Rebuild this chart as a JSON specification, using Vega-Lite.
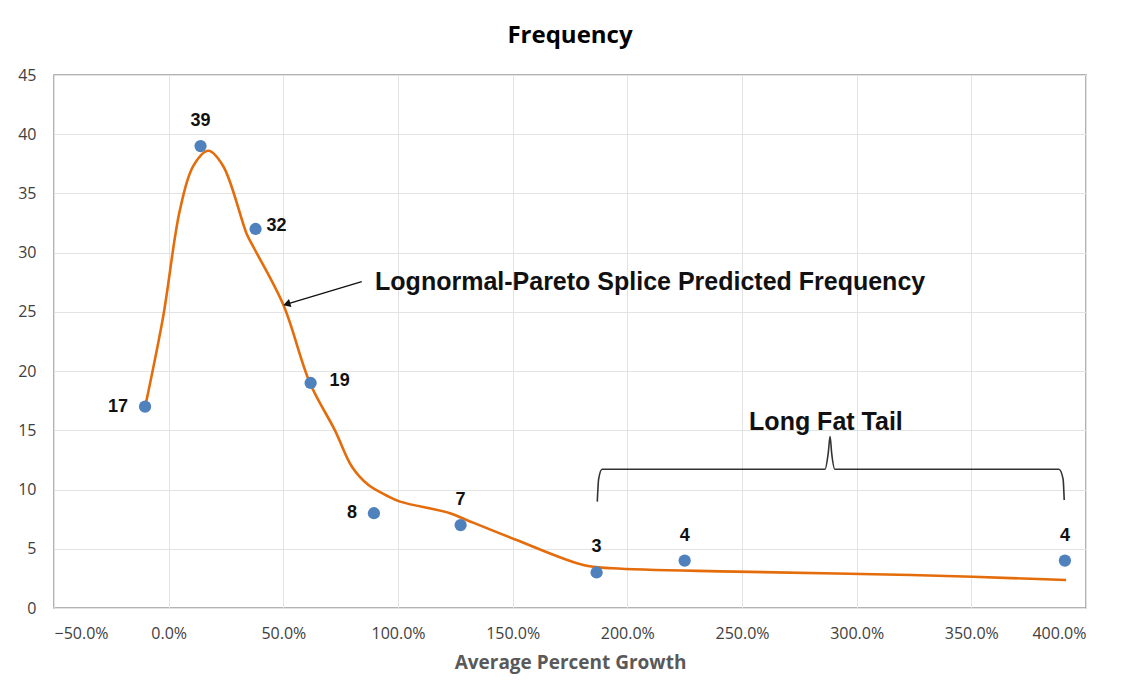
{
  "$schema": "https://vega.github.io/schema/vega-lite/v6.json",
  "width": 1032,
  "height": 533,
  "autosize": "none",
  "padding": {"left": 54, "top": 75, "right": 39, "bottom": 86},
  "background": "white",
  "title": {
    "text": "Frequency",
    "font": "Open Sans",
    "fontSize": 24,
    "fontWeight": "bold",
    "color": "#000000",
    "anchor": "middle",
    "baseline": "alphabetic",
    "offset": 0
  },
  "config": {
    "view": {"stroke": "#9a9a9a", "strokeWidth": 1.5},
    "axis": {
      "labelFont": "Open Sans",
      "labelFontSize": 16,
      "labelColor": "#404040",
      "titleFont": "Open Sans",
      "titleFontSize": 19,
      "titleFontWeight": "bold",
      "titleColor": "#595959",
      "gridColor": "#e3e3e3",
      "gridWidth": 1,
      "domain": false,
      "ticks": false
    }
  },
  "datasets": {
    "points": [
      {"x": -0.103, "y": 17, "n": 17},
      {"x": 0.139, "y": 39, "n": 39},
      {"x": 0.379, "y": 32, "n": 32},
      {"x": 0.619, "y": 19, "n": 19},
      {"x": 0.895, "y": 8, "n": 8},
      {"x": 1.273, "y": 7, "n": 7},
      {"x": 1.866, "y": 3, "n": 3},
      {"x": 2.25, "y": 4, "n": 4},
      {"x": 3.908, "y": 4, "n": 4}
    ],
    "curve": [
      {"x": -0.098, "y": 17.4},
      {"x": -0.024, "y": 24.6},
      {"x": 0.049, "y": 33.6},
      {"x": 0.107, "y": 37.3},
      {"x": 0.173, "y": 38.6},
      {"x": 0.238, "y": 37.3},
      {"x": 0.34, "y": 31.6},
      {"x": 0.369, "y": 30.5},
      {"x": 0.5, "y": 25.6},
      {"x": 0.616, "y": 19.0},
      {"x": 0.725, "y": 15.0},
      {"x": 0.8, "y": 11.9},
      {"x": 0.87, "y": 10.4},
      {"x": 0.95, "y": 9.5},
      {"x": 1.009, "y": 8.98},
      {"x": 1.227, "y": 8.0},
      {"x": 1.299, "y": 7.43},
      {"x": 1.517, "y": 5.74},
      {"x": 1.808, "y": 3.63},
      {"x": 1.936, "y": 3.35},
      {"x": 2.472, "y": 3.07},
      {"x": 3.238, "y": 2.79},
      {"x": 3.913, "y": 2.36}
    ],
    "bracket": [
      {"o": 1, "x": 1.869, "y": 8.98},
      {"o": 2, "x": 1.875, "y": 10.9},
      {"o": 3, "x": 1.89, "y": 11.71},
      {"o": 4, "x": 2.862, "y": 11.71},
      {"o": 5, "x": 2.876, "y": 13.07},
      {"o": 6, "x": 2.884, "y": 14.47},
      {"o": 7, "x": 2.891, "y": 13.07},
      {"o": 8, "x": 2.905, "y": 11.71},
      {"o": 9, "x": 3.882, "y": 11.71},
      {"o": 10, "x": 3.9, "y": 10.9},
      {"o": 11, "x": 3.905, "y": 9.12}
    ],
    "arrow": [
      {"x": 0.842, "y": 27.56, "x2": 0.515, "y2": 25.66}
    ],
    "arrowhead": [
      {"x": 0.52, "y": 25.69}
    ],
    "notes": [
      {"x": 0.9, "y": 27.5, "label": "Lognormal-Pareto Splice Predicted Frequency", "kind": "lp"},
      {"x": 2.866, "y": 15.73, "label": "Long Fat Tail", "kind": "tail"}
    ]
  },
  "encoding": {
    "x": {
      "field": "x",
      "type": "quantitative",
      "scale": {"domain": [-0.5, 4], "nice": false, "zero": false},
      "axis": {
        "values": [-0.5, 0, 0.5, 1, 1.5, 2, 2.5, 3, 3.5, 4],
        "format": ".1%",
        "title": "Average Percent Growth",
        "labelPadding": 17,
        "titlePadding": 12
      }
    },
    "y": {
      "field": "y",
      "type": "quantitative",
      "scale": {"domain": [0, 45], "nice": false},
      "axis": {
        "values": [0, 5, 10, 15, 20, 25, 30, 35, 40, 45],
        "title": null,
        "labelPadding": 18
      }
    }
  },
  "layer": [
    {
      "data": {"name": "curve"},
      "mark": {"type": "line", "color": "#e46c0a", "strokeWidth": 2.6, "interpolate": "catmull-rom"}
    },
    {
      "data": {"name": "points"},
      "mark": {"type": "circle", "size": 150, "color": "#4f81bd", "opacity": 1}
    },
    {
      "data": {"name": "points"},
      "transform": [{"filter": "datum.n == 17 || datum.n == 8"}],
      "mark": {"type": "text", "font": "Liberation Sans", "fontSize": 18, "fontWeight": "bold", "color": "#111111", "align": "right", "baseline": "middle", "dx": -17},
      "encoding": {"text": {"field": "n", "type": "nominal"}}
    },
    {
      "data": {"name": "points"},
      "transform": [{"filter": "datum.n == 32"}],
      "mark": {"type": "text", "font": "Liberation Sans", "fontSize": 18, "fontWeight": "bold", "color": "#111111", "align": "left", "baseline": "middle", "dx": 11, "dy": -3},
      "encoding": {"text": {"field": "n", "type": "nominal"}}
    },
    {
      "data": {"name": "points"},
      "transform": [{"filter": "datum.n == 19"}],
      "mark": {"type": "text", "font": "Liberation Sans", "fontSize": 18, "fontWeight": "bold", "color": "#111111", "align": "left", "baseline": "middle", "dx": 19, "dy": -2},
      "encoding": {"text": {"field": "n", "type": "nominal"}}
    },
    {
      "data": {"name": "points"},
      "transform": [{"filter": "datum.n == 39 || datum.n == 7 || datum.n == 3 || datum.n == 4"}],
      "mark": {"type": "text", "font": "Liberation Sans", "fontSize": 18, "fontWeight": "bold", "color": "#111111", "align": "center", "baseline": "middle", "dy": -25},
      "encoding": {"text": {"field": "n", "type": "nominal"}}
    },
    {
      "data": {"name": "bracket"},
      "mark": {"type": "line", "color": "#333333", "strokeWidth": 1.6, "interpolate": "monotone"},
      "encoding": {"order": {"field": "o", "type": "quantitative"}}
    },
    {
      "data": {"name": "arrow"},
      "mark": {"type": "rule", "color": "#111111", "strokeWidth": 1.4},
      "encoding": {
        "x2": {"field": "x2"},
        "y2": {"field": "y2"}
      }
    },
    {
      "data": {"name": "arrowhead"},
      "mark": {"type": "point", "shape": "triangle", "size": 70, "filled": true, "color": "#111111", "opacity": 1, "angle": 253}
    },
    {
      "data": {"name": "notes"},
      "transform": [{"filter": "datum.kind == 'lp'"}],
      "mark": {"type": "text", "font": "Liberation Sans", "fontSize": 25, "fontWeight": "bold", "color": "#111111", "align": "left", "baseline": "middle"},
      "encoding": {"text": {"field": "label", "type": "nominal"}}
    },
    {
      "data": {"name": "notes"},
      "transform": [{"filter": "datum.kind == 'tail'"}],
      "mark": {"type": "text", "font": "Liberation Sans", "fontSize": 25, "fontWeight": "bold", "color": "#111111", "align": "center", "baseline": "middle"},
      "encoding": {"text": {"field": "label", "type": "nominal"}}
    }
  ]
}
